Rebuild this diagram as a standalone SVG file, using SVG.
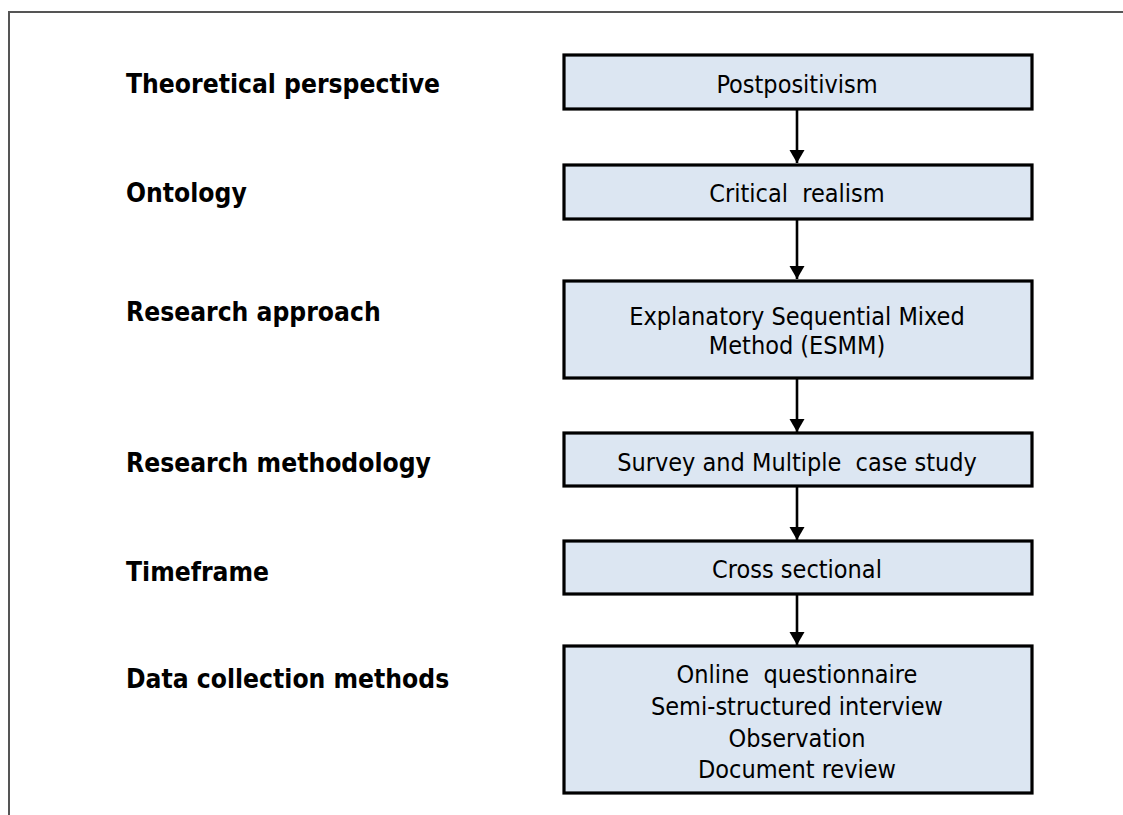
<svg xmlns="http://www.w3.org/2000/svg" width="1123" height="815" viewBox="0 0 1123 815">
<style>
.frame{fill:none;stroke:#555;stroke-width:2}
.box{fill:#dce6f2;stroke:#000;stroke-width:3.2}
.lbl{font-family:"DejaVu Sans Condensed","DejaVu Sans",sans-serif;font-stretch:condensed;font-weight:bold;font-size:26.2px;fill:#000}
.txt{font-family:"DejaVu Sans Condensed","DejaVu Sans",sans-serif;font-stretch:condensed;font-size:25px;fill:#000;text-anchor:middle;white-space:pre}
.conn{stroke:#000;stroke-width:2.6;fill:none;marker-end:url(#ah)}
</style>
<defs>
<marker id="ah" markerUnits="userSpaceOnUse" markerWidth="14" markerHeight="16" refX="13" refY="7.5" orient="auto">
<path d="M0,0 L13,7.5 L0,15 Z" fill="#000"/>
</marker>
</defs>
<path class="frame" d="M9,815 L9,12 L1123,12"/>
<g id="labels">
<text class="lbl" x="126" y="93">Theoretical perspective</text>
<text class="lbl" x="126" y="202">Ontology</text>
<text class="lbl" x="126" y="321">Research approach</text>
<text class="lbl" x="126" y="472">Research methodology</text>
<text class="lbl" x="126" y="581">Timeframe</text>
<text class="lbl" x="126" y="688">Data collection methods</text>
</g>
<g id="connectors">
<line class="conn" x1="797" y1="110" x2="797" y2="163"/>
<line class="conn" x1="797" y1="220" x2="797" y2="279"/>
<line class="conn" x1="797" y1="379" x2="797" y2="432"/>
<line class="conn" x1="797" y1="487" x2="797" y2="540"/>
<line class="conn" x1="797" y1="595" x2="797" y2="645"/>
</g>
<g id="n1"><rect class="box" x="564" y="55" width="468" height="54"/><text class="txt" x="797" y="93">Postpositivism</text></g>
<g id="n2"><rect class="box" x="564" y="165" width="468" height="54"/><text class="txt" x="797" y="202">Critical  realism</text></g>
<g id="n3"><rect class="box" x="564" y="281" width="468" height="97"/><text class="txt" x="797" y="325">Explanatory Sequential Mixed</text><text class="txt" x="797" y="354">Method (ESMM)</text></g>
<g id="n4"><rect class="box" x="564" y="433" width="468" height="53"/><text class="txt" x="797" y="471">Survey and Multiple  case study</text></g>
<g id="n5"><rect class="box" x="564" y="541" width="468" height="53"/><text class="txt" x="797" y="578">Cross sectional</text></g>
<g id="n6"><rect class="box" x="564" y="646" width="468" height="147"/><text class="txt" x="797" y="683">Online  questionnaire</text><text class="txt" x="797" y="715">Semi-structured interview</text><text class="txt" x="797" y="747">Observation</text><text class="txt" x="797" y="778">Document review</text></g>
</svg>
